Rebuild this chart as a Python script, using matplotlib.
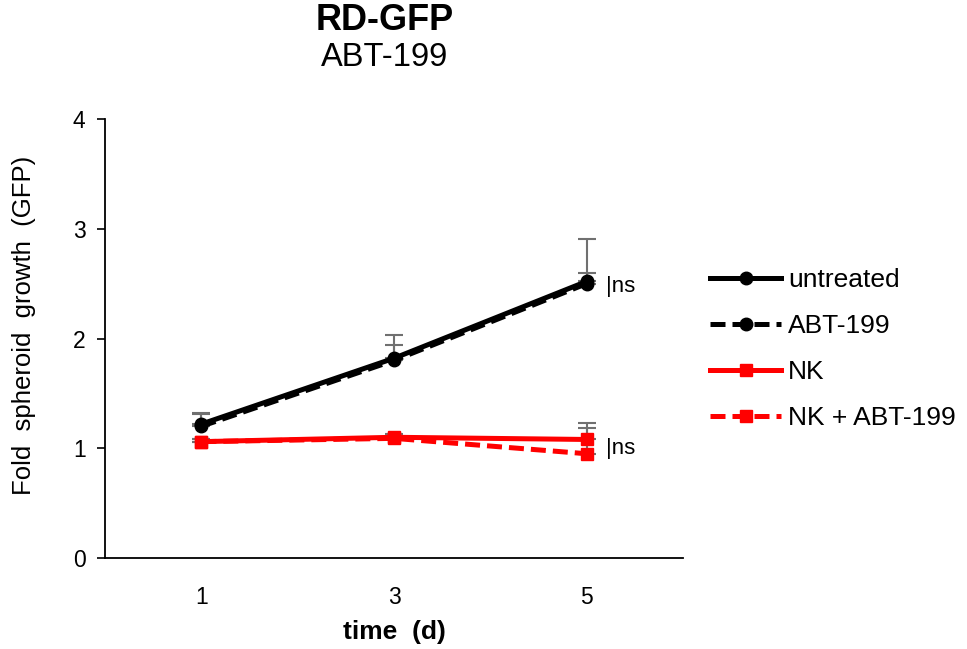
import matplotlib.pyplot as plt
import numpy as np

plt.rcParams['font.family'] = ['Liberation Sans', 'DejaVu Sans']

# dane
days = ['1', '3', '5']
untreated = [1.22, 1.82, 2.52]
untreated_err = [0.10, 0.21, 0.39]
abt = [1.20, 1.80, 2.50]
abt_err = [0.11, 0.14, 0.10]
nk = [1.06, 1.10, 1.08]
nk_err = [0.02, 0.03, 0.15]
nk_abt = [1.06, 1.09, 0.95]
nk_abt_err = [0.02, 0.03, 0.23]

fig = plt.figure(figsize=(9.67, 6.49), dpi=100)
ax = fig.add_axes([105/967, 1 - 558/649, 578/967, 439/649])

x = np.arange(len(days))
dash = (0, (3, 1.4))
series = [
    (untreated, untreated_err, 'untreated', 'black', '-', 'o'),
    (abt, abt_err, 'ABT-199', 'black', dash, 'o'),
    (nk, nk_err, 'NK', 'red', '-', 's'),
    (nk_abt, nk_abt_err, 'NK + ABT-199', 'red', dash, 's'),
]

# slupki bledow (tylko w gore)
for vals, err, label, col, ls, mk in series:
    ax.errorbar(x, vals, yerr=[np.zeros(len(err)), err], fmt='none',
                ecolor='#707070', elinewidth=1.5, capsize=6.5, capthick=1.5, zorder=1)

for vals, err, label, col, ls, mk in series:
    ax.plot(x, vals, color=col, linestyle=ls, linewidth=3.6, marker=mk,
            markersize=9 if mk == 'o' else 8.5, label=label, zorder=3)

ax.set_xlim(-0.5, 2.5)
ax.set_ylim(0, 4)
ax.set_yticks([0, 1, 2, 3, 4])
ax.set_xticks(x)
ax.set_xticklabels(days)
ax.tick_params(axis='y', labelsize=16.5, length=6, width=1.2, direction='out', pad=8)
ax.tick_params(axis='x', labelsize=16.5, length=0, pad=20)
ax.spines['top'].set_visible(False)
ax.spines['right'].set_visible(False)
ax.spines['left'].set_linewidth(1.3)
ax.spines['bottom'].set_linewidth(1.3)

ax.set_xlabel('time  (d)', fontsize=19, fontweight='bold', va='center')
ax.xaxis.set_label_coords(0.5, -(632 - 558) / 439)
ax.set_ylabel('Fold  spheroid  growth  (GFP)', fontsize=18.5, va='center')
ax.yaxis.set_label_coords(-(105 - 24) / 578, (558 - 325) / 439)

ax.text(2.1, untreated[2] - 0.05, '|ns', fontsize=16, va='center', ha='left')
ax.text(2.1, nk[2] - 0.08, '|ns', fontsize=16, va='center', ha='left')

fig.text(385/967, 1 - 21/649, 'RD-GFP', fontsize=26, fontweight='bold', ha='center', va='center')
fig.text(385/967, 1 - 58/649, 'ABT-199', fontsize=23.5, ha='center', va='center')

fig.legend(loc='center left', bbox_to_anchor=(710/967, 1 - 349/649), frameon=False,
           fontsize=19, handlelength=2.7, handletextpad=0.25, labelspacing=0.84,
           borderpad=0, borderaxespad=0, numpoints=1)

plt.savefig('out.png', dpi=100)
